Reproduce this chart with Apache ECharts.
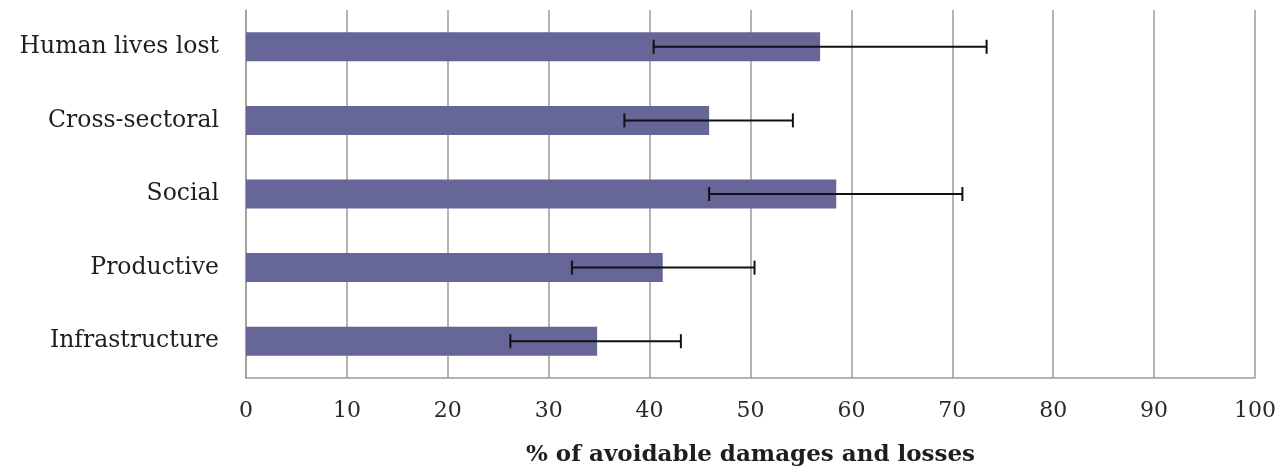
<!DOCTYPE html>
<html>
<head>
<meta charset="utf-8">
<script src="https://cdn.jsdelivr.net/npm/echarts@6/dist/echarts.min.js"></script>
<style>html,body{margin:0;padding:0;background:#fff}#c{width:1281px;height:473px}</style>
</head>
<body>
<div id="c"></div>
<script>
const categories = ['Human lives lost', 'Cross-sectoral', 'Social', 'Productive', 'Infrastructure'];
const values = [56.9, 45.9, 58.5, 41.3, 34.8];
const errLow = [40.4, 37.5, 45.9, 32.3, 26.2];
const errHigh = [73.4, 54.2, 71.0, 50.4, 43.1];
const xTicks = [0, 10, 20, 30, 40, 50, 60, 70, 80, 90, 100];
const xTitle = '% of avoidable damages and losses';

const chart = echarts.init(document.getElementById('c'));
const serif = '"DejaVu Serif", serif';
chart.setOption({
  animation: false,
  backgroundColor: '#ffffff',
  grid: { left: 246, right: 26, top: 10, bottom: 95 },
  xAxis: {
    type: 'value', min: xTicks[0], max: xTicks[xTicks.length - 1], interval: 10,
    axisLine: { show: true, lineStyle: { color: '#a09a96', width: 1.5 } },
    axisTick: { show: false },
    splitLine: { show: true, lineStyle: { color: '#a09a96', width: 1.5 } },
    axisLabel: { color: '#2a2a2a', fontFamily: serif, fontSize: 22, margin: 22 },
    name: xTitle, nameLocation: 'middle', nameGap: 66,
    nameTextStyle: { color: '#1e1e1e', fontFamily: serif, fontSize: 23, fontWeight: 'bold' }
  },
  yAxis: {
    type: 'category', data: categories, inverse: true,
    axisLine: { show: true, lineStyle: { color: '#a09a96', width: 1.5 } },
    axisTick: { show: false },
    axisLabel: { color: '#1e1e1e', fontFamily: serif, fontSize: 23.5, margin: 27 }
  },
  series: [
    {
      type: 'bar', data: values, barWidth: 29,
      itemStyle: { color: '#666699' }
    },
    {
      type: 'custom',
      data: categories.map((c, i) => [i, errLow[i], errHigh[i]]),
      encode: { y: 0, x: [1, 2] },
      renderItem: function (params, api) {
        const y = api.value(0);
        const p1 = api.coord([api.value(1), y]);
        const p2 = api.coord([api.value(2), y]);
        const h = 7;
        const style = { stroke: '#111', lineWidth: 2 };
        return {
          type: 'group',
          children: [
            { type: 'line', shape: { x1: p1[0], y1: p1[1], x2: p2[0], y2: p2[1] }, style: style },
            { type: 'line', shape: { x1: p1[0], y1: p1[1] - h, x2: p1[0], y2: p1[1] + h }, style: style },
            { type: 'line', shape: { x1: p2[0], y1: p2[1] - h, x2: p2[0], y2: p2[1] + h }, style: style }
          ]
        };
      },
      z: 5
    }
  ]
});
</script>
</body>
</html>
